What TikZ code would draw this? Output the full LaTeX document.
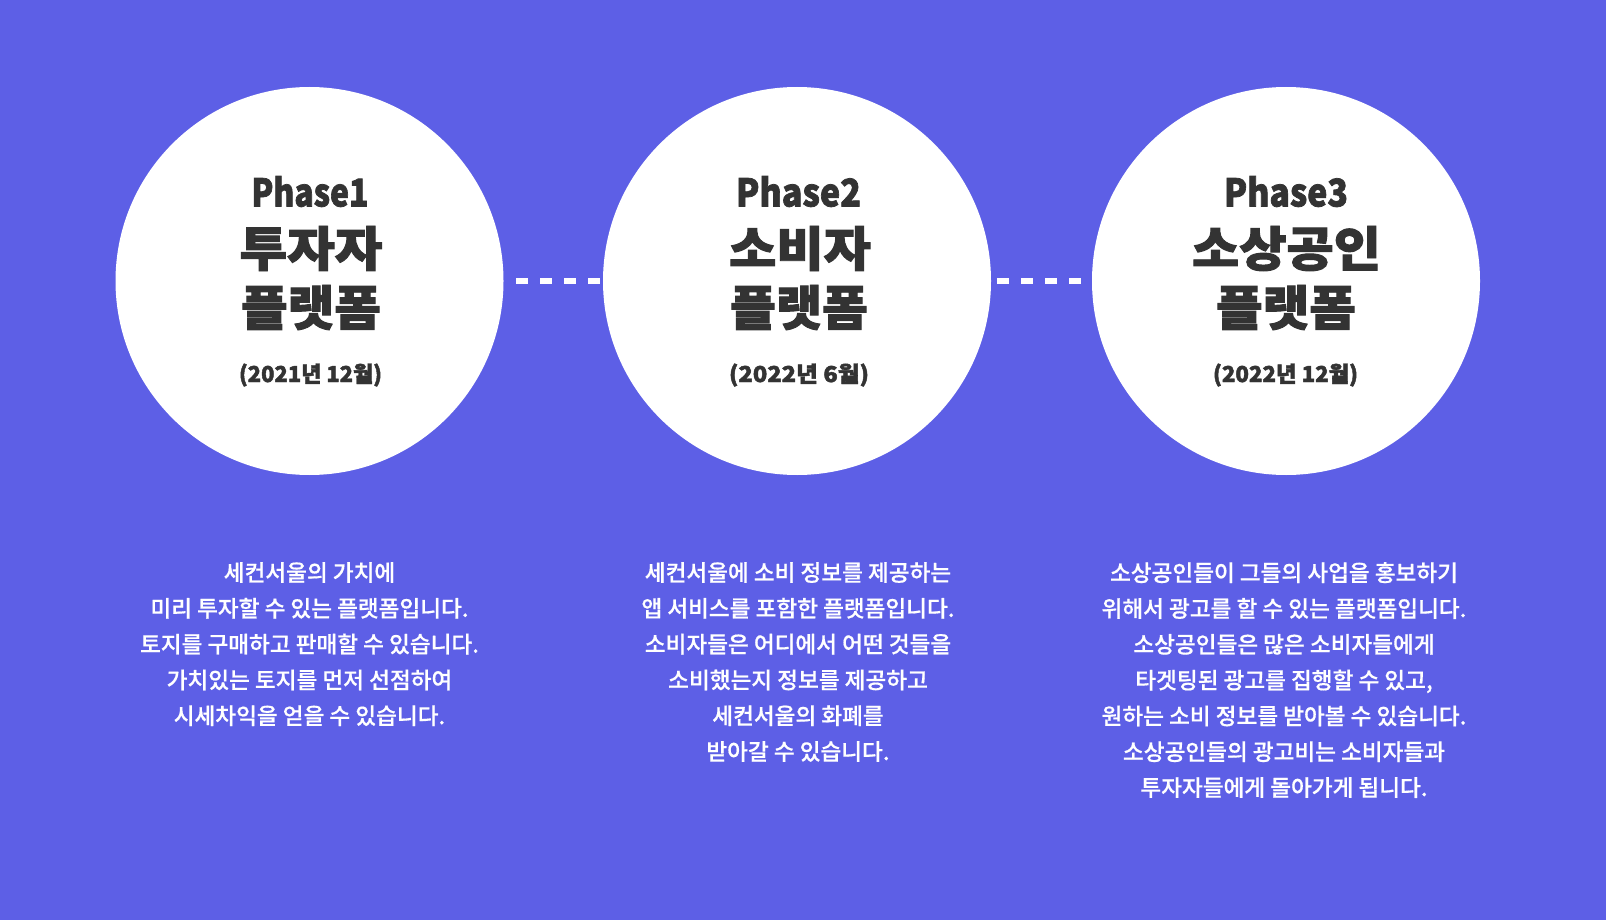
\documentclass[tikz,border=0pt]{standalone}
\usepackage{fontspec}
\usepackage{graphicx}
\newfontfamily\krblack[FakeBold=2]{Noto Sans CJK KR Black}
\newfontfamily\krtext[FakeBold=0.6]{Noto Sans CJK KR Medium}
\definecolor{bgblue}{HTML}{5D5FE6}
\definecolor{ink}{HTML}{333333}
\tikzset{
  disc/.style={circle, fill=white, minimum size=388pt, inner sep=0pt},
  ttl/.style={inner sep=0pt, text=ink, font=\krblack},
  desc/.style={inner sep=0pt, text=white, align=center, anchor=north,
    font=\krtext\fontsize{22.6}{35.8}\selectfont},
  dashline/.style={draw=white, line width=6pt, dash pattern=on 12pt off 12pt},
}
\newcommand\fitbox[3]{\resizebox*{#1pt}{#2pt}{#3}}
\begin{document}
\begin{tikzpicture}[x=1pt, y=-1pt]
  \fill[bgblue] (0,0) rectangle (1606,920);
  \useasboundingbox (0,0) rectangle (1606,920);

  % circles
  \node[disc] (c1) at (309.5,281) {};
  \node[disc] (c2) at (797,281) {};
  \node[disc] (c3) at (1286,281) {};

  % connectors
  \draw[dashline] ([xshift=12.5pt]c1.east) -- ([xshift=-3pt]c2.west);
  \draw[dashline] ([xshift=6pt]c2.east) -- ([xshift=-11pt]c3.west);

  % phase 1
  \node[ttl] (p1) at (310,191.5) {\fitbox{117}{31}{Phase1}};
  \node[ttl] (t1a) at (311,248.5) {\fitbox{143}{45}{투자자}};
  \node[ttl] (t1b) at (311,307.5) {\fitbox{140}{45}{플랫폼}};
  \node[ttl] (d1) at (310.5,375) {\fitbox{143}{23}{(2021년 12월)}};

  % phase 2
  \node[ttl] (p2) at (798.5,191.5) {\fitbox{125}{31}{Phase2}};
  \node[ttl] (t2a) at (800,248.5) {\fitbox{142}{45}{소비자}};
  \node[ttl] (t2b) at (799,307.5) {\fitbox{138}{45}{플랫폼}};
  \node[ttl] (d2) at (799,375) {\fitbox{140}{23}{(2022년 6월)}};

  % phase 3
  \node[ttl] (p3) at (1286,191.5) {\fitbox{124}{31}{Phase3}};
  \node[ttl] (t3a) at (1286.5,248.5) {\fitbox{189}{45}{소상공인}};
  \node[ttl] (t3b) at (1286,307.5) {\fitbox{140}{45}{플랫폼}};
  \node[ttl] (d3) at (1285.5,375) {\fitbox{145}{23}{(2022년 12월)}};

  % descriptions
  \node[desc] (e1) at (309.5,562) {세컨서울의 가치에\\미리 투자할 수 있는 플랫폼입니다.\\토지를 구매하고 판매할 수 있습니다.\\가치있는 토지를 먼저 선점하여\\시세차익을 얻을 수 있습니다.};
  \node[desc] (e2) at (798,562) {세컨서울에 소비 정보를 제공하는\\앱 서비스를 포함한 플랫폼입니다.\\소비자들은 어디에서 어떤 것들을\\소비했는지 정보를 제공하고\\세컨서울의 화폐를\\받아갈 수 있습니다.};
  \node[desc] (e3) at (1284,562) {소상공인들이 그들의 사업을 홍보하기\\위해서 광고를 할 수 있는 플랫폼입니다.\\소상공인들은 많은 소비자들에게\\타겟팅된 광고를 집행할 수 있고,\\원하는 소비 정보를 받아볼 수 있습니다.\\소상공인들의 광고비는 소비자들과\\투자자들에게 돌아가게 됩니다.};
\end{tikzpicture}
\end{document}
